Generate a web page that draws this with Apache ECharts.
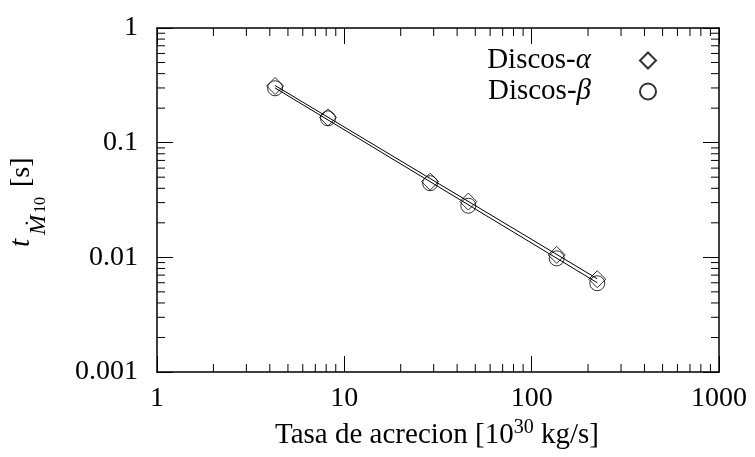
<!DOCTYPE html>
<html>
<head>
<meta charset="utf-8">
<script src="https://cdn.jsdelivr.net/npm/echarts@6/dist/echarts.min.js"></script>
<style>html,body{margin:0;padding:0;background:#fff}#c{width:755px;height:457px}</style>
</head>
<body>
<div id="c"></div>
<script>
// ---- data ----
const rateAlpha = [4.27, 8.18, 28.7, 45.9, 136, 224];
const timeAlpha = [0.312, 0.166, 0.0457, 0.0306, 0.0105, 0.00644];
const rateBeta  = [4.27, 8.18, 28.7, 45.9, 136, 224];
const timeBeta  = [0.298, 0.163, 0.0443, 0.0282, 0.0098, 0.00594];
const fitAlphaX = [4.27, 224];
const fitAlphaY = [0.315, 0.00650];
const fitBetaX  = [4.27, 224];
const fitBetaY  = [0.300, 0.00600];
const xMinorTicks = [2,3,4,5,6,7,8,9,20,30,40,50,60,70,80,90,200,300,400,500,600,700,800,900];
const yMinorTicks = [0.002,0.003,0.004,0.005,0.006,0.007,0.008,0.009,0.02,0.03,0.04,0.05,0.06,0.07,0.08,0.09,0.2,0.3,0.4,0.5,0.6,0.7,0.8,0.9];
const xTickLabels = {1:'1', 10:'10', 100:'100', 1000:'1000'};
const yTickLabels = {1:'1', 0.1:'0.1', 0.01:'0.01', 0.001:'0.001'};
const seriesNames = ['Discos-α', 'Discos-β'];

const FONT = 'Liberation Serif';
const FS = 28;
const zip = (a, b) => a.map((v, i) => [v, b[i]]);

const chart = echarts.init(document.getElementById('c'), null, {renderer: 'canvas'});

function fmtX(v){ for (const k in xTickLabels) if (Math.abs(Math.log10(v) - Math.log10(+k)) < 1e-6) return xTickLabels[k]; return ''; }
function fmtY(v){ for (const k in yTickLabels) if (Math.abs(Math.log10(v) - Math.log10(+k)) < 1e-6) return yTickLabels[k]; return ''; }

const axisCommon = {
  type: 'log', logBase: 10,
  axisLine: {show: true, lineStyle: {color: '#000', width: 1.5}},
  axisTick: {show: true, inside: true, length: 16, lineStyle: {color: '#000', width: 1}},
  splitLine: {show: false},
  minorTick: {show: false},
  minorSplitLine: {show: false}
};

function minorTickRender(isX){
  return function(params, api){
    const v = api.value(isX ? 0 : 1);
    const L = 8;
    let c1, c2;
    if (isX) {
      c1 = api.coord([v, 0.001]); c2 = api.coord([v, 1]);
      return {type: 'group', children: [
        {type: 'line', shape: {x1: c1[0], y1: c1[1], x2: c1[0], y2: c1[1] - L}, style: {stroke: '#000', lineWidth: 1}},
        {type: 'line', shape: {x1: c2[0], y1: c2[1], x2: c2[0], y2: c2[1] + L}, style: {stroke: '#000', lineWidth: 1}}
      ]};
    } else {
      c1 = api.coord([1, v]); c2 = api.coord([1000, v]);
      return {type: 'group', children: [
        {type: 'line', shape: {x1: c1[0], y1: c1[1], x2: c1[0] + L, y2: c1[1]}, style: {stroke: '#000', lineWidth: 1}},
        {type: 'line', shape: {x1: c2[0], y1: c2[1], x2: c2[0] - L, y2: c2[1]}, style: {stroke: '#000', lineWidth: 1}}
      ]};
    }
  };
}

const option = {
  backgroundColor: '#fff',
  animation: false,
  grid: {left: 157, right: 36, top: 28, bottom: 85, containLabel: false},
  xAxis: [
    Object.assign({}, axisCommon, {min: 1, max: 1000, position: 'bottom',
      axisLabel: {show: true, margin: 13, color: '#000', fontFamily: FONT, fontSize: FS, formatter: fmtX}}),
    Object.assign({}, axisCommon, {min: 1, max: 1000, position: 'top', axisLabel: {show: false}})
  ],
  yAxis: [
    Object.assign({}, axisCommon, {min: 0.001, max: 1, position: 'left',
      axisLabel: {show: true, margin: 19, color: '#000', fontFamily: FONT, fontSize: FS, formatter: fmtY}}),
    Object.assign({}, axisCommon, {min: 0.001, max: 1, position: 'right', axisLabel: {show: false}})
  ],
  legend: {
    data: seriesNames,
    orient: 'vertical', align: 'right',
    right: 98, top: 46, padding: 0,
    itemWidth: 16, itemHeight: 16, itemGap: 2,
    formatter: function(name){ const p = name.split('-'); return '{n|' + p[0] + '-}{g|' + p[1] + '}'; },
    textStyle: {
      color: '#000', fontFamily: FONT, fontSize: 29, padding: [0, 44, 0, 0],
      rich: {
        n: {fontFamily: FONT, fontSize: 29, color: '#000'},
        g: {fontFamily: FONT, fontSize: 29, fontStyle: 'italic', color: '#000'}
      }
    }
  },
  series: [
    {type: 'line', name: 'fitA', xAxisIndex: 0, yAxisIndex: 0, data: zip(fitAlphaX, fitAlphaY), symbol: 'none',
      lineStyle: {color: '#000', width: 1}, silent: true, z: 2},
    {type: 'line', name: 'fitB', xAxisIndex: 0, yAxisIndex: 0, data: zip(fitBetaX, fitBetaY), symbol: 'none',
      lineStyle: {color: '#000', width: 1}, silent: true, z: 2},
    {type: 'scatter', name: seriesNames[0], data: zip(rateAlpha, timeAlpha), symbol: 'diamond', symbolSize: 17,
      itemStyle: {color: 'rgba(0,0,0,0)', borderColor: '#000', borderWidth: 1}, z: 3},
    {type: 'scatter', name: seriesNames[1], data: zip(rateBeta, timeBeta), symbol: 'circle', symbolSize: 15,
      itemStyle: {color: 'rgba(0,0,0,0)', borderColor: '#000', borderWidth: 1}, z: 3},
    {type: 'custom', name: 'xminor', data: xMinorTicks.map(v => [v, 0.01]), renderItem: minorTickRender(true), silent: true, clip: false, z: 5},
    {type: 'custom', name: 'yminor', data: yMinorTicks.map(v => [10, v]), renderItem: minorTickRender(false), silent: true, clip: false, z: 5}
  ],
  graphic: [
    {
      type: 'text', x: 437, y: 418,
      style: {
        text: '{a|Tasa de acrecion [10}{s|30}{a| kg/s]}',
        align: 'center', verticalAlign: 'top',
        rich: {
          a: {fontFamily: FONT, fontSize: 29, color: '#000', verticalAlign: 'bottom', lineHeight: 32},
          s: {fontFamily: FONT, fontSize: 20, color: '#000', verticalAlign: 'top', lineHeight: 32}
        }
      }
    },
    {
      type: 'group', x: 31, y: 205, rotation: Math.PI / 2,
      children: [
        {type: 'text', x: -42, y: -9.5, style: {text: 't', fontFamily: FONT, fontSize: 29, fontStyle: 'italic', fill: '#000', align: 'left', verticalAlign: 'middle'}},
        {type: 'text', x: -30, y: 8, style: {text: 'Ṁ', fontFamily: FONT, fontSize: 24, fontStyle: 'italic', fill: '#000', align: 'left', verticalAlign: 'middle'}},
        {type: 'text', x: -8, y: 10, style: {text: '10', fontFamily: FONT, fontSize: 16, fill: '#000', align: 'left', verticalAlign: 'middle'}},
        {type: 'text', x: 18, y: -9.5, style: {text: '[s]', fontFamily: FONT, fontSize: FS, fill: '#000', align: 'left', verticalAlign: 'middle'}}
      ]
    }
  ]
};
chart.setOption(option);
</script>
</body>
</html>
